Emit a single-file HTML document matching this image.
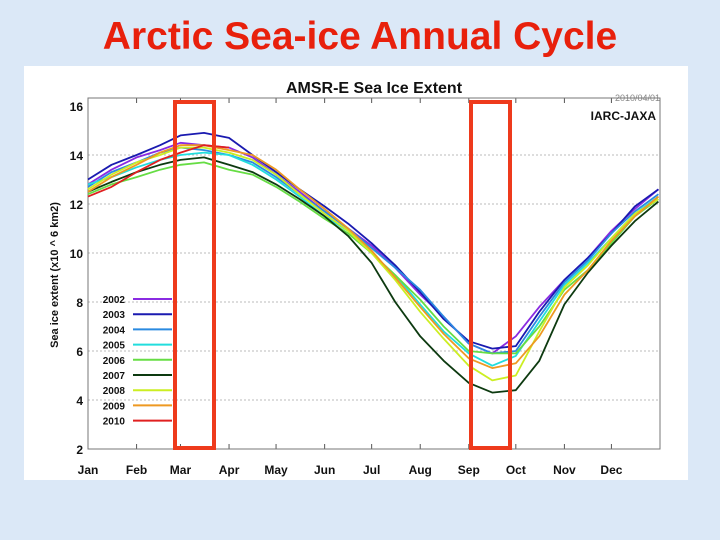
<!DOCTYPE html>
<html><head><meta charset="utf-8"><style>
body{margin:0;width:720px;height:540px;overflow:hidden;background:#dbe8f7;font-family:"Liberation Sans",sans-serif;}
#title{position:absolute;left:0;top:15px;width:720px;text-align:center;color:#e8200c;font-weight:bold;font-size:39px;}
#panel{position:absolute;left:24px;top:66px;width:664px;height:414px;background:#fff;}
svg{position:absolute;left:0;top:0;}
</style></head><body>
<div id="title">Arctic Sea-ice Annual Cycle</div>
<div id="panel"></div>
<svg id="chart" width="720" height="540"></svg>
<script>
const days=[0,15,31,46,59,74,90,105,120,135,151,166,181,196,212,227,243,258,273,288,304,319,334,349,364];
const years=["2002","2003","2004","2005","2006","2007","2008","2009","2010"];
const colors=["#8a2be2","#1a1ab0","#2a8ae0","#22dddd","#66dd44","#0d3a10","#ccee22","#ee9922","#e02020"];
const v2002=[12.8,13.4,13.9,14.2,14.5,14.4,14.3,13.9,13.2,12.5,11.7,11.0,10.3,9.4,8.3,7.4,6.3,5.9,6.6,7.8,8.9,9.8,10.9,11.8,12.6];
const v2003=[13.0,13.6,14.0,14.4,14.8,14.9,14.7,14.0,13.3,12.6,11.9,11.2,10.4,9.5,8.4,7.3,6.4,6.1,6.2,7.6,8.9,9.8,10.8,11.9,12.6];
const v2004=[12.7,13.3,13.7,14.1,14.3,14.2,14.0,13.7,13.1,12.4,11.7,11.0,10.2,9.4,8.5,7.4,6.3,5.9,6.0,7.4,8.8,9.7,10.8,11.7,12.4];
const v2005=[12.8,13.1,13.5,13.8,14.0,14.1,14.0,13.6,13.0,12.3,11.5,10.9,10.0,9.1,7.9,6.8,5.9,5.4,5.8,7.2,8.7,9.6,10.6,11.6,12.3];
const v2006=[12.4,12.8,13.1,13.4,13.6,13.7,13.4,13.2,12.7,12.1,11.4,10.8,10.0,9.1,8.1,7.0,6.0,5.9,5.9,7.0,8.5,9.3,10.4,11.5,12.2];
const v2007=[12.5,12.9,13.3,13.6,13.8,13.9,13.6,13.3,12.8,12.2,11.5,10.7,9.6,8.0,6.6,5.6,4.7,4.3,4.4,5.6,7.9,9.2,10.3,11.3,12.1];
const v2008=[12.6,13.2,13.7,14.0,14.3,14.3,14.1,13.8,13.2,12.4,11.6,10.9,10.0,8.9,7.6,6.5,5.4,4.8,5.0,6.8,8.6,9.5,10.6,11.6,12.2];
const v2009=[12.5,13.1,13.6,14.1,14.4,14.4,14.2,14.0,13.4,12.6,11.8,11.0,10.1,9.0,7.8,6.7,5.7,5.3,5.5,6.6,8.3,9.3,10.5,11.5,12.3];
const v2010=[12.3,12.7,13.3,13.8,14.1,14.4,14.3];
const series=[v2002,v2003,v2004,v2005,v2006,v2007,v2008,v2009,v2010];
const yTicks=[2,4,6,8,10,12,14,16];
const months=["Jan","Feb","Mar","Apr","May","Jun","Jul","Aug","Sep","Oct","Nov","Dec"];
const monthStart=[0,31,59,90,120,151,181,212,243,273,304,334];

const svg=document.getElementById('chart');const NS="http://www.w3.org/2000/svg";
const X=d=>88+d*(572/365), Y=v=>449-(v-2)*24.5;
function mk(t,a){const e=document.createElementNS(NS,t);for(const k in a)e.setAttribute(k,a[k]);svg.appendChild(e);return e;}
let e=mk('text',{x:374,y:93,'text-anchor':'middle','font-size':16,'font-weight':'bold',fill:'#111'});e.textContent="AMSR-E Sea Ice Extent";


e=mk('text',{x:660,y:101,'text-anchor':'end','font-size':9,fill:'#888'});e.textContent="2010/04/01";


e=mk('text',{x:656,y:120,'text-anchor':'end','font-size':12,'font-weight':'bold',fill:'#111'});e.textContent="IARC-JAXA";


yTicks.forEach(v=>{
  if(v>2&&v<16){const g=mk('line',{x1:88,x2:660,y1:Y(v),y2:Y(v),stroke:'#bbb','stroke-dasharray':'2,2'});
  
  }
  const t=mk('text',{x:83,y:Y(v)+5,'text-anchor':'end','font-size':12,'font-weight':'bold',fill:'#111'});t.textContent=v;
  
  
});
months.forEach((m,i)=>{
  const x=X(monthStart[i]);
  mk('line',{x1:x,x2:x,y1:449,y2:444,stroke:'#555'});mk('line',{x1:x,x2:x,y1:Y(16)-8,y2:Y(16)-3,stroke:'#555'});
  const t=mk('text',{x:x,y:474,'text-anchor':'middle','font-size':12,'font-weight':'bold',fill:'#111'});t.textContent=m;
  
  
});
e=mk('rect',{x:88,y:Y(16)-8,width:572,height:449-Y(16)+8,fill:'none',stroke:'#777'});


e=mk('text',{x:0,y:0,transform:'translate(58,275) rotate(-90)','text-anchor':'middle','font-size':11,'font-weight':'bold',fill:'#111'});e.textContent="Sea ice extent  (x10 ^ 6 km2)";


series.forEach((s,i)=>{
  const p=s.map((v,j)=>(j?'L':'M')+X(days[j]).toFixed(1)+','+Y(v).toFixed(1)).join('');
  const l=mk('path',{d:p,fill:'none',stroke:colors[i],'stroke-width':1.8,'stroke-linejoin':'round'});
  
  
  const ly=299+i*15.2;
  const t=mk('text',{x:125,y:ly+4,'text-anchor':'end','font-size':10,'font-weight':'bold',fill:'#111'});t.textContent=years[i];
  
  
  const k=mk('line',{x1:133,x2:172,y1:ly,y2:ly,stroke:colors[i],'stroke-width':2});
  
  
});
[[173,216],[469,512]].forEach((r,i)=>{
  const b=mk('rect',{x:r[0]+2,y:102,width:r[1]-r[0]-4,height:346,fill:'none',stroke:'#ee3a1c','stroke-width':4});
  
  
});
</script>
</body></html>
